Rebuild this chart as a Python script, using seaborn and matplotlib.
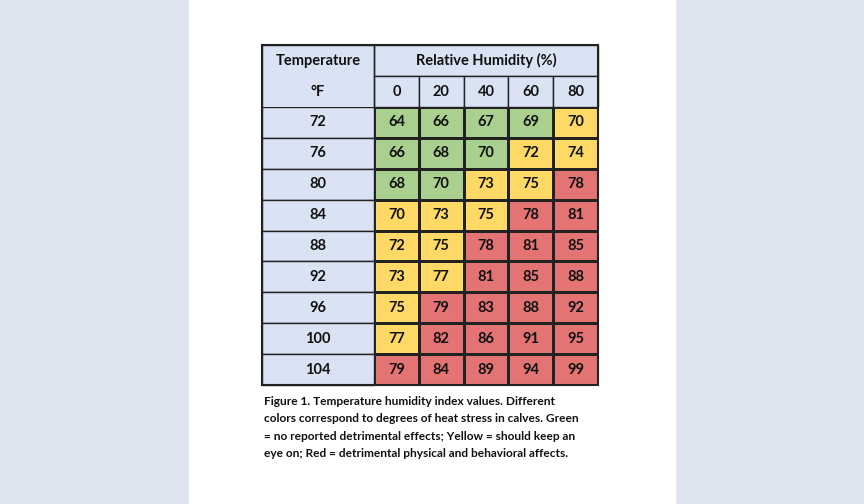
import numpy as np
import matplotlib.pyplot as plt
import matplotlib.patches as mpatches
from matplotlib.colors import ListedColormap
import seaborn as sns

temps = [72, 76, 80, 84, 88, 92, 96, 100, 104]
humidity = [0, 20, 40, 60, 80]
thi = [
    [64, 66, 67, 69, 70],
    [66, 68, 70, 72, 74],
    [68, 70, 73, 75, 78],
    [70, 73, 75, 78, 81],
    [72, 75, 78, 81, 85],
    [73, 77, 81, 85, 88],
    [75, 79, 83, 88, 92],
    [77, 82, 86, 91, 95],
    [79, 84, 89, 94, 99],
]
# 0 = green, 1 = yellow, 2 = red
stress = [
    [0, 0, 0, 0, 1],
    [0, 0, 0, 1, 1],
    [0, 0, 1, 1, 2],
    [1, 1, 1, 2, 2],
    [1, 1, 2, 2, 2],
    [1, 1, 2, 2, 2],
    [1, 2, 2, 2, 2],
    [1, 2, 2, 2, 2],
    [2, 2, 2, 2, 2],
]
caption = ("Figure 1. Temperature humidity index values. Different\n"
           "colors correspond to degrees of heat stress in calves. Green\n"
           "= no reported detrimental effects; Yellow = should keep an\n"
           "eye on; Red = detrimental physical and behavioral affects.")

GREEN, YELLOW, RED, HEAD = '#a9d08e', '#ffd966', '#e47474', '#dae3f3'
plt.rcParams['font.family'] = ['Lato', 'DejaVu Sans']

fig = plt.figure(figsize=(8.64, 5.04), dpi=100, facecolor='#dde4f0')
fig.patches.append(mpatches.Rectangle((189 / 864, 0), 486 / 864, 1, color='white',
                                      transform=fig.transFigure, zorder=-10))

ax = fig.add_axes([374 / 864, (504 - 385) / 504, 224 / 864, 278 / 504])
ax.set_zorder(1)
sns.heatmap(np.array(stress), cmap=ListedColormap([GREEN, YELLOW, RED]), vmin=-0.5, vmax=2.5,
            annot=np.array(thi), fmt='d', cbar=False, linewidths=1, linecolor='#222222',
            annot_kws={'fontsize': 10.5, 'fontweight': 'bold', 'color': '#111111'}, ax=ax)
ax.set_xticks([])
ax.set_yticks([])

lw = 1
left = -2.5
# left column cells
for i, t in enumerate(temps):
    ax.add_patch(mpatches.Rectangle((left, i), 2.5, 1, facecolor=HEAD, edgecolor='#222222',
                                    lw=lw, clip_on=False))
    ax.text(left + 1.25, i + 0.5, str(t), ha='center', va='center', fontsize=10.5,
            fontweight='bold', color='#111111')
# header rows
ax.add_patch(mpatches.Rectangle((left, -2), 2.5, 2, facecolor=HEAD, edgecolor='none', clip_on=False))
ax.plot([left, left, 0, 0], [0, -2, -2, 0], color='#222222', lw=lw, clip_on=False)
ax.text(left + 1.25, -1.5, 'Temperature', ha='center', va='center', fontsize=10.5,
        fontweight='bold', color='#111111')
ax.text(left + 1.25, -0.5, '°F', ha='center', va='center', fontsize=10.5,
        fontweight='bold', color='#111111')
ax.add_patch(mpatches.Rectangle((0, -2), 5, 1, facecolor=HEAD, edgecolor='#222222', lw=lw, clip_on=False))
ax.text(2.5, -1.5, 'Relative Humidity (%)', ha='center', va='center', fontsize=10.5,
        fontweight='bold', color='#111111')
for j, h in enumerate(humidity):
    ax.add_patch(mpatches.Rectangle((j, -1), 1, 1, facecolor=HEAD, edgecolor='#222222',
                                    lw=lw, clip_on=False))
    ax.text(j + 0.5, -0.5, str(h), ha='center', va='center', fontsize=10.5,
            fontweight='bold', color='#111111')
ax.add_patch(mpatches.Rectangle((left, -2), 7.5, 11, facecolor='none', edgecolor='#222222',
                                lw=1.5, clip_on=False))

fig.text(264 / 864, 1 - 396 / 504, caption, ha='left', va='top', fontsize=8.6,
         fontweight='bold', color='#111111', linespacing=1.7)

fig.savefig('out.png', dpi=100, facecolor=fig.get_facecolor())
